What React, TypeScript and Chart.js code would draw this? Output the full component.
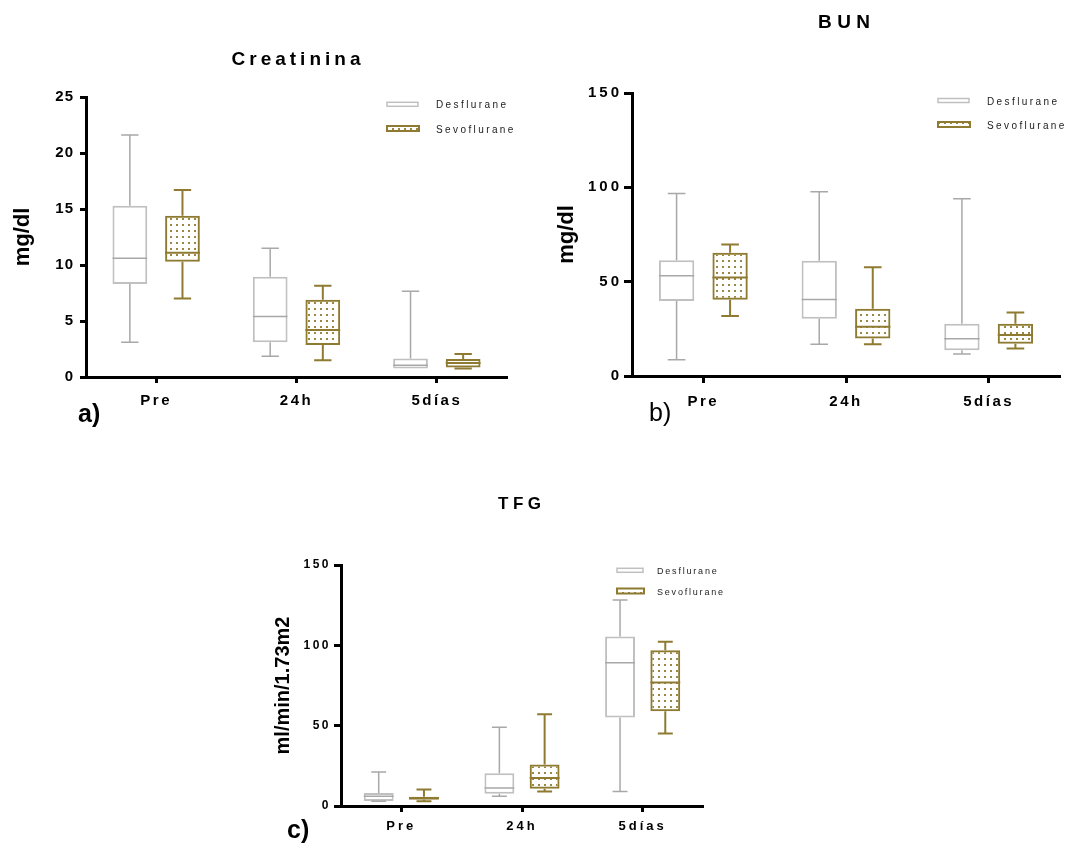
import React, { useEffect, useRef } from 'react';
import { Chart, registerables } from 'chart.js';

Chart.register(...registerables);

const FONT = '"Liberation Sans", Arial, sans-serif';
const OLIVE = '#8e7b31';
const GRAY_BOX = '#c0c0c0';
const GRAY_LINE = '#a8a8a8';

const categories = ['Pre', '24h', '5días'];
const seriesNames = ['Desflurane', 'Sevoflurane'];

// each entry: [min, q1, median, q3, max]
const creatininaDesflurane = [[3.1, 8.3, 10.6, 15.3, 21.6], [1.85, 3.1, 5.4, 8.95, 11.5], [0.75, 0.75, 1.05, 1.65, 7.65]];
const creatininaSevoflurane = [[7.0, 10.3, 11.1, 14.4, 16.7], [1.5, 2.85, 4.2, 6.9, 8.15], [0.75, 0.85, 1.25, 1.6, 2.05]];
const bunDesflurane = [[8.6, 39.7, 53.1, 61.4, 96.7], [16.8, 30.4, 40.6, 61.1, 97.6], [11.6, 13.6, 19.8, 27.7, 93.9]];
const bunSevoflurane = [[31.8, 40.4, 52.2, 65.3, 69.7], [16.8, 19.9, 26.1, 35.6, 57.7], [14.6, 17.1, 21.7, 27.7, 33.7]];
const tfgDesflurane = [[3.0, 3.1, 6.0, 8.1, 21.2], [6.0, 7.7, 11.2, 20.4, 49.0], [9.1, 55.1, 89.1, 105.5, 128.2]];
const tfgSevoflurane = [[2.9, 3.9, 5.0, 5.8, 10.2], [9.1, 10.8, 17.5, 25.8, 57.1], [45.1, 59.0, 76.9, 97.0, 102.2]];

const creatininaTicks = [0, 5, 10, 15, 20, 25];
const bunTicks = [0, 50, 100, 150];
const tfgTicks = [0, 50, 100, 150];

const panels = [
  {
    key: 'a', left: 0, top: 0, width: 540, height: 440,
    area: { x0: 86, y0: 97, x1: 507, y1: 377 },
    des: creatininaDesflurane, sev: creatininaSevoflurane, ticks: creatininaTicks,
    title: 'Creatinina', titleX: 296, titleY: 65, titleSize: 19, titleLs: 4,
    panel: 'a)', panelX: 78, panelY: 422, panelBold: true,
    legX: 387, legRows: [104.3, 128.5], legTextX: 436, legW: 31, legSize: 10, legLs: 2.4,
    yTick: { size: 15, ls: 1, pad: 6, tl: 6 }, xTick: { size: 15, ls: 2.5, pad: 9, tl: 6 },
    yTitle: 'mg/dl', yTitleSize: 22, yTitlePad: 10,
  },
  {
    key: 'b', left: 540, top: 0, width: 527, height: 440,
    area: { x0: 92, y0: 93, x1: 520, y1: 376 },
    des: bunDesflurane, sev: bunSevoflurane, ticks: bunTicks,
    title: 'BUN', titleX: 304, titleY: 28, titleSize: 19, titleLs: 5.5,
    panel: 'b)', panelX: 109, panelY: 421, panelBold: false,
    legX: 398, legRows: [100.5, 124.5], legTextX: 447, legW: 31, legSize: 10, legLs: 2.4,
    yTick: { size: 15, ls: 3, pad: 2, tl: 8 }, xTick: { size: 15, ls: 2.5, pad: 10, tl: 7 },
    yTitle: 'mg/dl', yTitleSize: 22, yTitlePad: 14,
  },
  {
    key: 'c', left: 260, top: 470, width: 480, height: 376,
    area: { x0: 81, y0: 95, x1: 443, y1: 336 },
    des: tfgDesflurane, sev: tfgSevoflurane, ticks: tfgTicks,
    title: 'TFG', titleX: 259.5, titleY: 39, titleSize: 17, titleLs: 4.5,
    panel: 'c)', panelX: 27, panelY: 368, panelBold: true,
    legX: 357, legRows: [100.3, 121], legTextX: 397, legW: 26, legSize: 9, legLs: 1.8,
    yTick: { size: 12, ls: 2.5, pad: 3, tl: 7 }, xTick: { size: 13, ls: 3, pad: 7, tl: 6 },
    yTitle: 'ml/min/1.73m2', yTitleSize: 20, yTitlePad: 11.5,
  },
];

function BoxPanel({ cfg }: { cfg: any }) {
  const ref = useRef<HTMLCanvasElement>(null);

  useEffect(() => {
    const canvas = ref.current!;
    const ctx = canvas.getContext('2d')!;
    const tile = document.createElement('canvas');
    tile.width = 6;
    tile.height = 6;
    const tctx = tile.getContext('2d')!;
    tctx.fillStyle = '#9a8743';
    tctx.fillRect(2, 2, 2, 2);
    const dots = ctx.createPattern(tile, 'repeat')!;

    const { area } = cfg;

    const spacingPlugin = {
      id: 'tickSpacing',
      beforeDraw(chart: any) {
        (['x', 'y'] as const).forEach((id) => {
          const s: any = chart.scales[id];
          if (!s || s._lsPatched) return;
          const orig = s.drawLabels.bind(s);
          const ls = id === 'x' ? cfg.xTick.ls : cfg.yTick.ls;
          s.drawLabels = (a: any) => {
            const c: any = chart.ctx;
            c.save();
            c.letterSpacing = ls + 'px';
            orig(a);
            c.restore();
          };
          s._lsPatched = true;
        });
      },
    };

    const whiskerPlugin = {
      id: 'whiskers',
      afterDatasetsDraw(chart: any) {
        const c = chart.ctx;
        const y = chart.scales.y;
        chart.data.datasets.forEach((ds: any, di: number) => {
          const meta = chart.getDatasetMeta(di);
          meta.data.forEach((el: any, i: number) => {
            const s = ds.stats[i];
            const x = el.x;
            const w = el.width;
            const pMin = y.getPixelForValue(s[0]);
            const pQ1 = y.getPixelForValue(s[1]);
            const pMed = y.getPixelForValue(s[2]);
            const pQ3 = y.getPixelForValue(s[3]);
            const pMax = y.getPixelForValue(s[4]);
            const cap = w * 0.25;
            c.save();
            c.strokeStyle = ds.whiskerColor;
            c.lineWidth = ds.whiskerWidth;
            c.beginPath();
            if (s[4] > s[3]) {
              c.moveTo(x, pQ3);
              c.lineTo(x, pMax);
              c.moveTo(x - cap, pMax);
              c.lineTo(x + cap, pMax);
            }
            if (s[0] < s[1]) {
              c.moveTo(x, pQ1);
              c.lineTo(x, pMin);
              c.moveTo(x - cap, pMin);
              c.lineTo(x + cap, pMin);
            }
            c.moveTo(x - w / 2, pMed);
            c.lineTo(x + w / 2, pMed);
            c.stroke();
            c.restore();
          });
        });
      },
    };

    const textPlugin = {
      id: 'panelText',
      afterDraw(chart: any) {
        const c: any = chart.ctx;
        c.save();
        c.fillStyle = '#000';
        c.font = `bold ${cfg.titleSize}px ${FONT}`;
        c.letterSpacing = cfg.titleLs + 'px';
        c.textAlign = 'center';
        c.textBaseline = 'alphabetic';
        c.fillText(cfg.title, cfg.titleX + cfg.titleLs / 2, cfg.titleY);
        c.letterSpacing = '0px';
        c.textAlign = 'left';
        c.font = `${cfg.panelBold ? 'bold ' : ''}25px ${FONT}`;
        c.fillText(cfg.panel, cfg.panelX, cfg.panelY);
        c.font = `${cfg.legSize}px ${FONT}`;
        c.letterSpacing = cfg.legLs + 'px';
        c.textBaseline = 'middle';
        chart.data.datasets.forEach((ds: any, i: number) => {
          const yy = cfg.legRows[i];
          if (i === 0) {
            c.fillStyle = '#fff';
            c.fillRect(cfg.legX, yy - 2, cfg.legW, 4);
            c.strokeStyle = GRAY_BOX;
            c.lineWidth = 1.5;
            c.strokeRect(cfg.legX, yy - 2, cfg.legW, 4);
          } else {
            c.fillStyle = dots;
            c.fillRect(cfg.legX, yy - 2.5, cfg.legW + 1, 5);
            c.strokeStyle = OLIVE;
            c.lineWidth = 2;
            c.strokeRect(cfg.legX, yy - 2.5, cfg.legW + 1, 5);
          }
          c.fillStyle = '#222';
          c.fillText(ds.label, cfg.legTextX, yy + 1.3);
        });
        c.restore();
      },
    };

    const tickMin = cfg.ticks[0];
    const tickMax = cfg.ticks[cfg.ticks.length - 1];

    const chart = new Chart(canvas, {
      type: 'bar',
      data: {
        labels: categories,
        datasets: [
          {
            label: seriesNames[0],
            data: cfg.des.map((s: number[]) => [s[1], s[3]]),
            stats: cfg.des,
            backgroundColor: '#ffffff',
            borderColor: GRAY_BOX,
            borderWidth: 2,
            borderSkipped: false,
            whiskerColor: GRAY_LINE,
            whiskerWidth: 1.5,
            categoryPercentage: 0.75,
            barPercentage: 0.66,
          } as any,
          {
            label: seriesNames[1],
            data: cfg.sev.map((s: number[]) => [s[1], s[3]]),
            stats: cfg.sev,
            backgroundColor: dots,
            borderColor: OLIVE,
            borderWidth: 2,
            borderSkipped: false,
            whiskerColor: OLIVE,
            whiskerWidth: 2,
            categoryPercentage: 0.75,
            barPercentage: 0.66,
          } as any,
        ],
      },
      options: {
        responsive: false,
        animation: false,
        layout: {
          padding: { left: 0, top: area.y0, right: cfg.width - area.x1, bottom: 0 },
        },
        plugins: {
          legend: { display: false },
          tooltip: { enabled: false },
          title: { display: false },
        },
        scales: {
          x: {
            type: 'category',
            offset: true,
            grid: {
              offset: false,
              drawOnChartArea: false,
              drawTicks: true,
              tickLength: cfg.xTick.tl,
              tickWidth: 3,
              tickColor: '#000',
            },
            border: { display: true, color: '#000', width: 3 },
            ticks: {
              color: '#000',
              font: { family: FONT, size: cfg.xTick.size, weight: 'bold' },
              padding: cfg.xTick.pad,
              maxRotation: 0,
              minRotation: 0,
              autoSkip: false,
            },
            afterFit: (s: any) => {
              s.height = cfg.height - area.y1;
            },
          },
          y: {
            type: 'linear',
            min: tickMin,
            max: tickMax,
            afterBuildTicks: (s: any) => {
              s.ticks = cfg.ticks.map((v: number) => ({ value: v }));
            },
            grid: {
              drawOnChartArea: false,
              drawTicks: true,
              tickLength: cfg.yTick.tl,
              tickWidth: 3,
              tickColor: '#000',
            },
            border: { display: true, color: '#000', width: 3 },
            ticks: {
              color: '#000',
              font: { family: FONT, size: cfg.yTick.size, weight: 'bold' },
              padding: cfg.yTick.pad,
            },
            title: {
              display: true,
              text: cfg.yTitle,
              color: '#000',
              font: { family: FONT, size: cfg.yTitleSize, weight: 'bold' },
              padding: { top: cfg.yTitlePad, bottom: 0 },
            },
            afterFit: (s: any) => {
              s.width = area.x0;
            },
          },
        },
      } as any,
      plugins: [spacingPlugin, whiskerPlugin, textPlugin],
    });

    return () => chart.destroy();
  }, [cfg]);

  return (
    <canvas
      ref={ref}
      width={cfg.width}
      height={cfg.height}
      style={{ position: 'absolute', left: cfg.left, top: cfg.top, width: cfg.width, height: cfg.height }}
    />
  );
}

export default function App() {
  return (
    <div style={{ position: 'absolute', left: 0, top: 0, width: 1067, height: 846, background: '#fff', overflow: 'hidden' }}>
      {panels.map((p) => (
        <BoxPanel key={p.key} cfg={p} />
      ))}
    </div>
  );
}
